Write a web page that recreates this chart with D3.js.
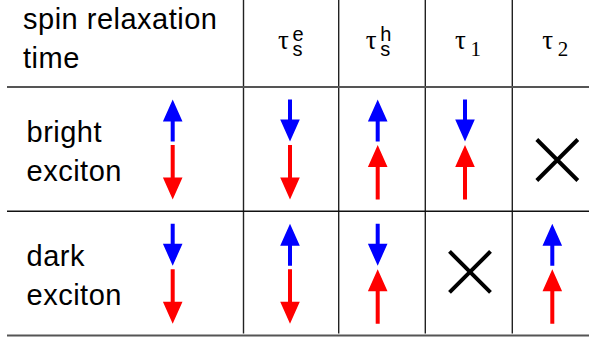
<!DOCTYPE html>
<html>
<head>
<meta charset="utf-8">
<script src="https://cdn.jsdelivr.net/npm/d3@7"></script>
<style>
  body { margin: 0; background: #fff; }
  svg { display: block; }
</style>
</head>
<body>
<div id="chart"></div>
<script>
// table content
const columns = ['label', 'tau_se', 'tau_sh', 'tau1', 'tau2'];
const headerTitle = ['spin relaxation', 'time'];
const headerSymbols = [
  null,
  { main: 'τ', sub: 's', sup: 'e' },
  { main: 'τ', sub: 's', sup: 'h' },
  { main: 'τ', sub: '1', sup: null },
  { main: 'τ', sub: '2', sup: null }
];
const rowNames = ['bright', 'dark'];
const rowLabelLines = [['bright', 'exciton'], ['dark', 'exciton']];
// electron spin (blue, upper) and hole spin (red, lower); null = forbidden (X)
const electronSpin = [
  ['up', 'down', 'up', 'down', null],
  ['down', 'up', 'down', null, 'up']
];
const holeSpin = [
  ['down', 'down', 'up', 'up', null],
  ['down', 'down', 'up', null, 'up']
];

const W = 589, H = 339;
const svg = d3.select('#chart').append('svg')
  .attr('width', W).attr('height', H)
  .attr('viewBox', `0 0 ${W} ${H}`);

// layout
const colEdges = [7, 243.5, 338.7, 425.3, 512.3, 589];
const xMark = d3.scaleOrdinal().domain(columns).range([172.7, 290, 377.7, 465, 552.3]);
const yRow = d3.scaleBand().domain(rowNames).range([87, 335.5]);
const slots = { e: [12.5, 54.5], h: [58, 112.5] };
const crossDy = { bright: 73, dark: 60.7 };

// grid lines
svg.selectAll('line.vgrid')
  .data(colEdges.slice(1, -1))
  .enter().append('line')
  .attr('class', 'vgrid')
  .attr('x1', d => d).attr('x2', d => d)
  .attr('y1', 0).attr('y2', 333.5)
  .attr('stroke', '#222')
  .attr('stroke-width', 1.4);

const hLines = [yRow.range()[0], yRow('dark'), yRow.range()[1]];
svg.selectAll('line.hgrid')
  .data(hLines)
  .enter().append('line')
  .attr('class', 'hgrid')
  .attr('x1', colEdges[0]).attr('x2', colEdges[colEdges.length - 1])
  .attr('y1', d => d).attr('y2', d => d)
  .attr('stroke', (d, i) => i === 1 ? '#111' : '#555')
  .attr('stroke-width', (d, i) => i === 1 ? 1.6 : 2);

const sans = '"Liberation Sans", Arial, sans-serif';
const serif = '"Liberation Serif", "Times New Roman", serif';

// header title
svg.append('text')
  .attr('font-family', sans)
  .attr('font-size', 29)
  .attr('letter-spacing', 0.5)
  .attr('fill', '#000')
  .selectAll('tspan')
  .data(headerTitle)
  .enter().append('tspan')
  .attr('x', 23)
  .attr('y', (d, i) => 29 + i * 38.7)
  .text(d => d);

// header symbols: one text per header, sub/sup as tspans
svg.selectAll('text.head')
  .data(headerSymbols.map((d, i) => ({ ...d, col: columns[i] })).filter(d => d.main))
  .enter().append('text')
  .attr('class', 'head')
  .each(function(d) {
    const t = d3.select(this);
    const x0 = xMark(d.col);
    const digit = /\d/.test(d.sub);
    t.append('tspan')
      .attr('x', x0 - (digit ? 10 : 12))
      .attr('y', 48.5)
      .attr('font-family', serif)
      .attr('font-size', 27)
      .text(d.main);
    t.append('tspan')
      .attr('x', x0 + (digit ? 5.5 : 2.5))
      .attr('y', 55.5)
      .attr('font-family', digit ? serif : sans)
      .attr('font-size', digit ? 21 : 20)
      .text(d.sub);
    if (d.sup) {
      t.append('tspan')
        .attr('x', x0 + 2.5)
        .attr('y', 40.8)
        .attr('font-family', sans)
        .attr('font-size', 20)
        .text(d.sup);
    }
  });

// row labels
rowNames.forEach((r, ri) => {
  svg.append('text')
    .attr('font-family', sans)
    .attr('font-size', 29)
    .attr('letter-spacing', 0.5)
    .selectAll('tspan')
    .data(rowLabelLines[ri])
    .enter().append('tspan')
    .attr('x', 26.5)
    .attr('y', (d, i) => yRow(r) + 55 + i * 38.8)
    .text(d => d);
});

// arrows
const HEAD_LEN = 22, HEAD_HALF = 9.8, SHAFT = 4;
function arrowPath(x, yA, yB, dir) {
  // yA < yB; dir 'up' -> tip at yA, 'down' -> tip at yB
  const tip = dir === 'up' ? yA : yB;
  const tail = dir === 'up' ? yB : yA;
  const s = dir === 'up' ? 1 : -1;
  const base = tip + s * HEAD_LEN;
  return `M${x - SHAFT / 2},${tail}L${x - SHAFT / 2},${base}L${x - HEAD_HALF},${base}` +
    `L${x},${tip}L${x + HEAD_HALF},${base}L${x + SHAFT / 2},${base}L${x + SHAFT / 2},${tail}Z`;
}

const cells = [];
rowNames.forEach((r, ri) => {
  columns.forEach((c, ci) => {
    cells.push({ row: r, col: c, e: electronSpin[ri][ci], h: holeSpin[ri][ci] });
  });
});

const arrows = [];
cells.filter(d => d.e).forEach(d => {
  arrows.push({ row: d.row, col: d.col, dir: d.e, slot: 'e', color: '#0000ff' });
  arrows.push({ row: d.row, col: d.col, dir: d.h, slot: 'h', color: '#ff0000' });
});

svg.selectAll('path.spin')
  .data(arrows)
  .enter().append('path')
  .attr('class', 'spin')
  .attr('d', d => arrowPath(xMark(d.col), yRow(d.row) + slots[d.slot][0], yRow(d.row) + slots[d.slot][1], d.dir))
  .attr('fill', d => d.color);

// forbidden transitions
const CROSS = 20.5;
svg.selectAll('g.cross')
  .data(cells.filter(d => !d.e))
  .enter().append('g')
  .attr('class', 'cross')
  .attr('transform', d => `translate(${xMark(d.col) + 5},${yRow(d.row) + crossDy[d.row]})`)
  .append('path')
  .attr('d', `M${-CROSS},${-CROSS}L${CROSS},${CROSS}M${CROSS},${-CROSS}L${-CROSS},${CROSS}`)
  .attr('stroke', '#000')
  .attr('stroke-width', 4)
  .attr('fill', 'none');
</script>
</body>
</html>
